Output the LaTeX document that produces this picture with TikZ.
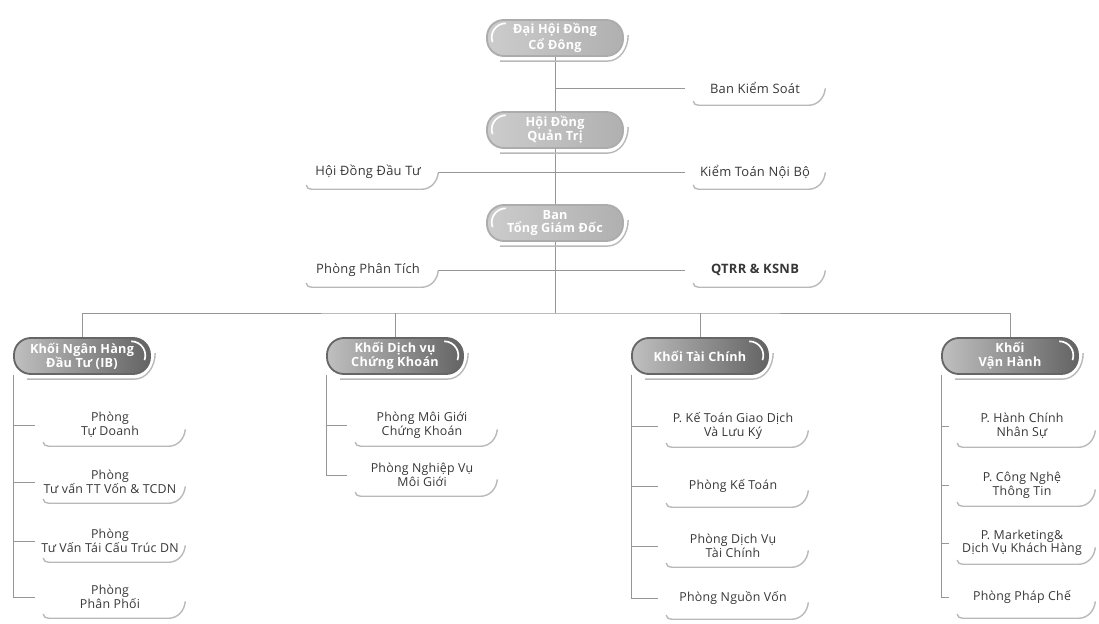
\documentclass[tikz,border=0pt]{standalone}
\usepackage{fontspec}
\setmainfont{Open Sans}[LetterSpace=2]
\usepackage{tikz}
\usetikzlibrary{calc}
\definecolor{orgtext}{RGB}{55,55,55}
\definecolor{orgline}{RGB}{150,150,150}

\begin{document}
\begin{tikzpicture}[x=0.025cm,y=-0.025cm,
  toppill/.style={draw=gray!65,line width=1.3pt,left color=gray!40,right color=gray!62,
                  rounded corners=12pt,minimum width=3.4cm,minimum height=0.9cm,inner sep=0pt,
                  align=center,font=\fontsize{9}{9.8}\selectfont\bfseries,text=white},
  blkpill/.style={toppill,draw=gray!80!black,left color=gray!50,right color=gray!78!black},
  side/.style={minimum width=3.5cm,minimum height=0.85cm,inner sep=0pt,align=center,
               font=\fontsize{9.2}{10}\selectfont,text=orgtext},
  unit/.style={side,minimum width=3.75cm,minimum height=1.05cm,font=\fontsize{8.8}{9.6}\selectfont},
  ln/.style={orgline,line width=0.6pt},
  shd/.style={gray!55,line width=1pt},
  hl/.style={white,line width=1.2pt}
]
\useasboundingbox (0,0) rectangle (1099,624);
\node[toppill] (dhcd) at (555,38) {Đại Hội Đồng\\Cổ Đông};
\node[toppill] (hdqt) at (555,130) {Hội Đồng\\Quản Trị};
\node[toppill] (btgd) at (555,223) {Ban\\Tổng Giám Đốc};

\node[side] (bks) at (755,88) {Ban Kiểm Soát};
\node[side] (hddt) at (368,172) {Hội Đồng Đầu Tư};
\node[side] (ktnb) at (755,172) {Kiểm Toán Nội Bộ};
\node[side] (ppt) at (368,270) {Phòng Phân Tích};
\node[side,font=\fontsize{9.2}{10}\selectfont\bfseries] (qtrr) at (755,270) {QTRR \& KSNB};

\node[blkpill] (knh) at (82,356) {Khối Ngân Hàng\\Đầu Tư (IB)};
\node[blkpill] (kdv) at (395,356) {Khối Dịch vụ\\Chứng Khoán};
\node[blkpill] (ktc) at (700,356) {Khối Tài Chính};
\node[blkpill] (kvh) at (1010,356) {Khối\\Vận Hành};

\node[unit] (c1a) at (110,425) {Phòng\\Tự Doanh};
\node[unit] (c1b) at (110,482) {Phòng\\Tư vấn TT Vốn \& TCDN};
\node[unit] (c1c) at (110,541) {Phòng\\Tư Vấn Tái Cấu Trúc DN};
\node[unit] (c1d) at (110,597) {Phòng\\Phân Phối};

\node[unit] (c2a) at (422,425) {Phòng Môi Giới\\Chứng Khoán};
\node[unit] (c2b) at (422,475) {Phòng Nghiệp Vụ\\Môi Giới};

\node[unit] (c3a) at (733,426) {P. Kế Toán Giao Dịch\\Và Lưu Ký};
\node[unit] (c3b) at (733,486) {Phòng Kế Toán};
\node[unit] (c3c) at (733,546) {Phòng Dịch Vụ\\Tài Chính};
\node[unit] (c3d) at (733,598) {Phòng Nguồn Vốn};

\node[unit,minimum width=3.65cm] (c4a) at (1022,426) {P. Hành Chính\\Nhân Sự};
\node[unit,minimum width=3.65cm] (c4b) at (1022,485) {P. Công Nghệ\\Thông Tin};
\node[unit,minimum width=3.65cm] (c4c) at (1022,543) {P. Marketing\&\\Dịch Vụ Khách Hàng};
\node[unit,minimum width=3.65cm] (c4d) at (1022,597) {Phòng Pháp Chế};

\coordinate (bus) at (555,313);
\draw[ln] (dhcd) -- (hdqt);
\draw[ln] (hdqt) -- (btgd);
\draw[ln] (bks.west) -- (bks.west -| dhcd.south);
\draw[ln] (hddt) -- (ktnb);
\draw[ln] (ppt) -- (qtrr);
\draw[ln] (btgd) -- (bus);
\draw[ln] (knh.north) |- (bus) -| (kvh.north);
\draw[ln] (kdv.north) -- (kdv.north |- bus);
\draw[ln] (ktc.north) -- (ktc.north |- bus);

\draw[ln] (knh.south west) |- (c1d.west);
\draw[ln] (kdv.south west) |- (c2b.west);
\draw[ln] (ktc.south west) |- (c3d.west);
\draw[ln] (kvh.south west) |- (c4d.west);
\foreach \c/\p in {c1a/knh,c1b/knh,c1c/knh,c2a/kdv,c3a/ktc,c3b/ktc,c3c/ktc,c4a/kvh,c4b/kvh,c4c/kvh}
  \draw[ln] (\c.west) -- (\c.west -| \p.south west);

\foreach \n in {bks,hddt,ktnb,ppt,qtrr,c1a,c1b,c1c,c1d,c2a,c2b,c3a,c3b,c3c,c3d,c4a,c4b,c4c,c4d}
  \draw[shd] ([xshift=6pt,yshift=3pt]\n.south west) to[out=-90,in=180] ([xshift=10pt]\n.south west)
    -- ([xshift=-12pt]\n.south east) to[out=0,in=-95] ([yshift=12pt]\n.south east);
\foreach \n in {dhcd,hdqt,btgd,knh,kdv,ktc,kvh}
  \draw[shd] ([xshift=10pt,yshift=-3pt]\n.south west) -- ([xshift=-12pt,yshift=-3pt]\n.south east)
    to[out=0,in=-90] ([xshift=3pt,yshift=2pt]\n.east);
\foreach \n in {dhcd,hdqt,btgd}
  \draw[hl] ([xshift=14pt,yshift=-3pt]\n.north west) arc[start angle=90,end angle=200,radius=10pt];
\foreach \n in {knh,kdv,ktc,kvh}
  \draw[hl] ([xshift=-14pt,yshift=-3pt]\n.north east) arc[start angle=90,end angle=-20,radius=10pt];
\end{tikzpicture}
\end{document}
